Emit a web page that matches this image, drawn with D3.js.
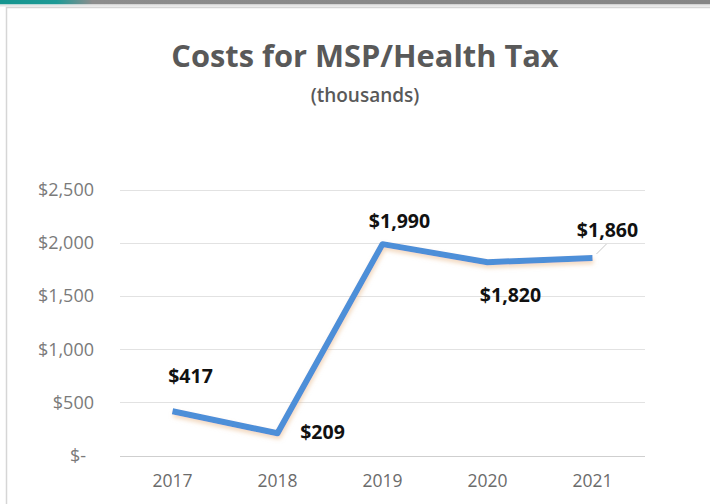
<!DOCTYPE html>
<html>
<head>
<meta charset="utf-8">
<script src="https://cdn.jsdelivr.net/npm/d3@7"></script>
<style>
  html, body { margin: 0; padding: 0; background: #fff; }
  svg { display: block; font-family: "Open Sans", "Noto Sans", sans-serif; }
</style>
</head>
<body>
<svg id="chart" width="710" height="504"></svg>
<script>
// Yearly cost of MSP / health tax, in thousands of dollars
const years = ["2017", "2018", "2019", "2020", "2021"];
const costs = [417, 209, 1990, 1820, 1860];
const yTicks = [0, 500, 1000, 1500, 2000, 2500];

// where each value label sits relative to its point (dx, dy to baseline)
const labelOffsets = [[18, -28], [45, 6], [17, -16], [23, 40], [15, -21]];

const svg = d3.select("#chart");
const W = 710, H = 504;
const plot = { left: 120, right: 645, top: 190, bottom: 455.5 };

// frame: coloured strip along the top and the chart area border
const defs = svg.append("defs");
const grad = defs.append("linearGradient").attr("id", "strip").attr("x1", 0).attr("x2", 1);
grad.append("stop").attr("offset", "0").attr("stop-color", "#15958f");
grad.append("stop").attr("offset", "0.08").attr("stop-color", "#1e9a96");
grad.append("stop").attr("offset", "0.13").attr("stop-color", "#8d8d8d");
grad.append("stop").attr("offset", "1").attr("stop-color", "#868686");
svg.append("rect").attr("x", 0).attr("y", 0).attr("width", W).attr("height", 4.5).attr("fill", "url(#strip)");
svg.append("rect").attr("x", 0).attr("y", 4.5).attr("width", W).attr("height", 2).attr("fill", "#e6e6e6");
svg.append("rect")
  .attr("x", 6.5).attr("y", 7.5).attr("width", W + 10).attr("height", H)
  .attr("fill", "#fff").attr("stroke", "#d6d6d6").attr("stroke-width", 1.5);

// soft shadow under the line
const shadow = defs.append("filter").attr("id", "lineShadow")
  .attr("x", "-10%").attr("y", "-10%").attr("width", "120%").attr("height", "130%");
shadow.append("feGaussianBlur").attr("in", "SourceAlpha").attr("stdDeviation", 2).attr("result", "blur");
shadow.append("feOffset").attr("in", "blur").attr("dx", 1).attr("dy", 3).attr("result", "off");
shadow.append("feFlood").attr("flood-color", "#e8b98a").attr("flood-opacity", 0.55);
shadow.append("feComposite").attr("in2", "off").attr("operator", "in").attr("result", "sh");
const merge = shadow.append("feMerge");
merge.append("feMergeNode").attr("in", "sh");
merge.append("feMergeNode").attr("in", "SourceGraphic");

const x = d3.scaleBand().domain(years).range([plot.left, plot.right]);
const y = d3.scaleLinear().domain([0, 2500]).range([plot.bottom, plot.top]);

// title
svg.append("text")
  .attr("x", 365).attr("y", 67)
  .attr("text-anchor", "middle")
  .attr("font-size", 30.8).attr("font-weight", 700)
  .attr("fill", "#595959")
  .text("Costs for MSP/Health Tax");
svg.append("text")
  .attr("x", 365).attr("y", 102)
  .attr("text-anchor", "middle")
  .attr("font-size", 19).attr("font-weight", 600)
  .attr("fill", "#595959")
  .text("(thousands)");

// gridlines
svg.append("g")
  .selectAll("line")
  .data(yTicks)
  .join("line")
  .attr("x1", plot.left).attr("x2", plot.right)
  .attr("y1", d => Math.round(y(d)) + 0.5).attr("y2", d => Math.round(y(d)) + 0.5)
  .attr("stroke", d => d === 0 ? "#cfcfcf" : "#e2e2e2")
  .attr("stroke-width", 1);

// y axis labels (accounting style)
const fmt = d => d === 0 ? "$-" : "$" + d3.format(",")(d);
const yAxis = svg.append("g")
  .attr("transform", `translate(${plot.left - 26},0)`)
  .call(d3.axisLeft(y).tickValues(yTicks).tickFormat(fmt).tickSize(0).tickPadding(0));
yAxis.select(".domain").remove();
yAxis.selectAll("text")
  .attr("font-family", "'Open Sans', sans-serif")
  .attr("font-size", 18)
  .attr("fill", "#7a7a7a")
  .attr("dx", d => d === 0 ? -8 : 0);

// x axis labels
const xAxis = svg.append("g")
  .attr("transform", `translate(0,${plot.bottom})`)
  .call(d3.axisBottom(x).tickSize(0).tickPadding(19));
xAxis.select(".domain").remove();
xAxis.selectAll("text")
  .attr("font-family", "'Open Sans', sans-serif")
  .attr("font-size", 17.5)
  .attr("fill", "#6b6b6b");

// cost line
const pts = years.map((yr, i) => ({ yr, v: costs[i], i }));
const line = d3.line().x(d => x(d.yr) + x.bandwidth() / 2).y(d => y(d.v));
svg.append("path")
  .datum(pts)
  .attr("d", line)
  .attr("fill", "none")
  .attr("stroke", "#4e8fd8")
  .attr("stroke-width", 6)
  .attr("stroke-linejoin", "round")
  .attr("stroke-linecap", "butt")
  .attr("filter", "url(#lineShadow)");

// leader line for the last label
const last = pts[pts.length - 1];
svg.append("line")
  .attr("x1", x(last.yr) + x.bandwidth() / 2 + 4).attr("y1", y(last.v) - 4)
  .attr("x2", x(last.yr) + x.bandwidth() / 2 + 14).attr("y2", y(last.v) - 14)
  .attr("stroke", "#c8c8c8").attr("stroke-width", 1);

// value labels
svg.append("g")
  .selectAll("text")
  .data(pts)
  .join("text")
  .attr("x", d => x(d.yr) + x.bandwidth() / 2 + labelOffsets[d.i][0])
  .attr("y", d => y(d.v) + labelOffsets[d.i][1])
  .attr("text-anchor", "middle")
  .attr("font-size", 19.5).attr("font-weight", 700)
  .attr("fill", "#111")
  .text(d => "$" + d3.format(",")(d.v));
</script>
</body>
</html>
